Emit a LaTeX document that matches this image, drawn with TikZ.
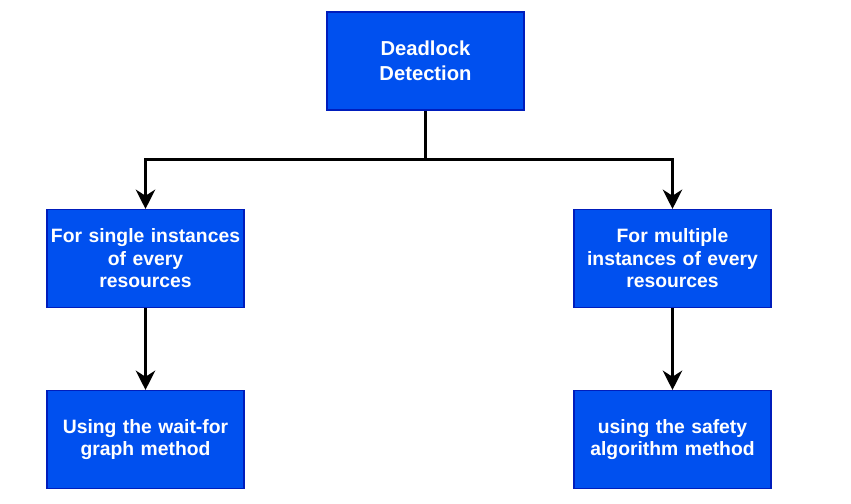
\documentclass[tikz,border=0pt]{standalone}
\usepackage{fontspec}
\setmainfont{Liberation Sans}
\usepackage{xcolor}
\usetikzlibrary{positioning, arrows.meta, calc}
\definecolor{boxblue}{RGB}{0, 80, 239}
\definecolor{boxedge}{RGB}{0, 29, 188}

\begin{document}
\begin{tikzpicture}[
    stepbox/.style={draw=boxedge, fill=boxblue, text=white, line width=0.6pt,
        minimum width=3.94cm, minimum height=1.96cm, text width=3.94cm, align=center,
        font=\fontsize{11}{12.8}\selectfont\bfseries, inner sep=0pt},
    link/.style={draw=black, line width=1.75pt, -{Stealth[length=11pt, width=11pt, inset=3.5pt]}}
]
        \useasboundingbox (0,0) rectangle (17.02,10.06);

        % Root
        \node[stepbox, font=\fontsize{11.5}{14.2}\selectfont\bfseries] (root) at (8.51,8.84) {Deadlock\\Detection};

        % Two cases
        \node[stepbox] (single) at (2.91,4.89) {For single instances\\of every\\resources};
        \node[stepbox] (multi) at (13.45,4.89) {For multiple\\instances of every\\resources};

        % Methods
        \node[stepbox] (waitfor) at (2.91,1.27) {Using the wait-for\\graph method};
        \node[stepbox] (safety) at (13.45,1.27) {using the safety\\algorithm method};

        % Connectors
        \coordinate (split) at ($(root.south)+(0,-0.98)$);
        \draw[link, -] (root.south) -- (split);
        \draw[link] (split) -| (single.north);
        \draw[link] (split) -| (multi.north);
        \draw[link] (single.south) -- (waitfor.north);
        \draw[link] (multi.south) -- (safety.north);
\end{tikzpicture}
\end{document}
